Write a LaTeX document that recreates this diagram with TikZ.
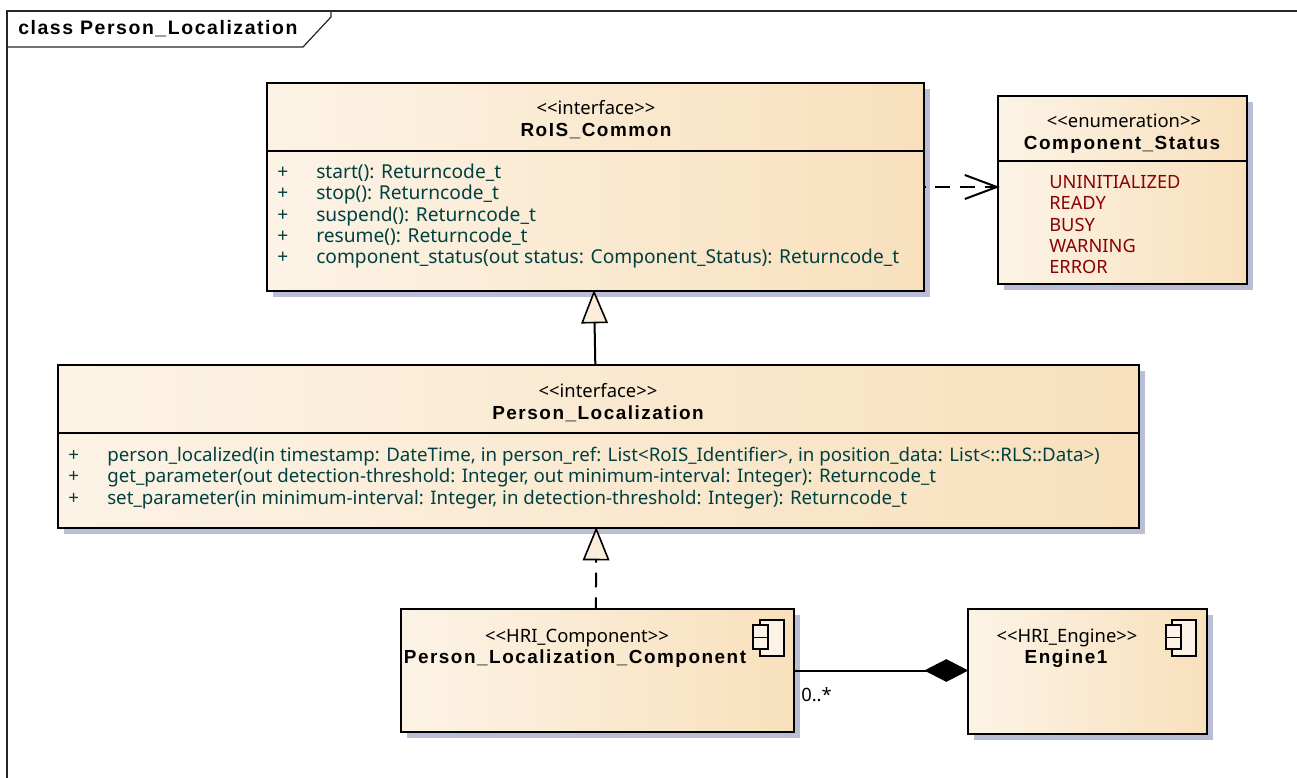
\documentclass[tikz,border=0pt]{standalone}
\usepackage{fontspec}
\usetikzlibrary{arrows.meta,shadows,fit,calc}
\newfontfamily\plainf{Noto Sans}
\newfontfamily\boldf[LetterSpace=8]{Liberation Sans}
\definecolor{boxl}{HTML}{FCF3E6}
\definecolor{boxm}{HTML}{FAEDDB}
\definecolor{boxr}{HTML}{F8E0BC}
\definecolor{shad}{HTML}{B9BED4}
\definecolor{opc}{HTML}{004040}
\definecolor{lit}{HTML}{8B0000}
\tikzset{
  x=0.75pt,y=-0.75pt,
  classbox/.style={draw=black,line width=1.5pt,inner sep=0pt,left color=boxl,middle color=boxm,right color=boxr,
    drop shadow={shadow xshift=4.5pt,shadow yshift=-4.5pt,opacity=1,fill=shad}},
  stereo/.style={anchor=base,inner sep=0pt,font=\plainf\fontsize{13.8pt}{16pt}\selectfont},
  cname/.style={anchor=base,inner sep=0pt,font=\boldf\bfseries\fontsize{14.2pt}{16pt}\selectfont},
  oper/.style={anchor=base west,inner sep=0pt,text=opc,font=\plainf\fontsize{14.37pt}{16pt}\selectfont},
  operw/.style={anchor=base west,inner sep=0pt,text=opc,font=\plainf\fontsize{14.02pt}{16pt}\selectfont},
  literal/.style={anchor=base west,inner sep=0pt,text=lit,font=\plainf\fontsize{13.7pt}{16pt}\selectfont},
  conn/.style={line width=1.5pt,draw=black},
  divline/.style={line width=1.5pt,draw=black},
  dashconn/.style={conn,dash pattern=on 11pt off 7.5pt},
  opentri/.style={shorten >=-1.5pt,-{Triangle[open,fill=boxm,length=25pt,width=20pt,line width=1.2pt]}},
  openarrow/.style={shorten >=-2pt,-{Straight Barb[length=24pt,width=18pt,line width=1.5pt]}},
  comp/.style={shorten >=-1pt,-{Diamond[fill=black,length=33pt,width=17pt]}},
  icon/.style={draw=black,line width=1.1pt,fill=boxl},
  framel/.style={draw=black!85,line width=0.9pt},
}
\begin{document}
\begin{tikzpicture}
\useasboundingbox (0,0) rectangle (1297,778);
% frame
\draw[framel] (7,778) -- (7,11) -- (1297,11);
\draw[framel] (7,47) -- (303,47) -- (331,17) -- (331,11);
\node[anchor=base west,inner sep=0pt,font=\boldf\bfseries\fontsize{14.6pt}{16pt}\selectfont] (frametitle) at (18,35) {class Person\_Localization};
% boxes
\node[classbox,fit={(266.5,83)(923.5,291)}] (rois) {};
\node[classbox,fit={(998,96)(1247,284)}] (status) {};
\node[classbox,fit={(58,365)(1139,528)}] (pl) {};
\node[classbox,fit={(401,609)(794,732)}] (cmp) {};
\node[classbox,fit={(968,609)(1207,734)}] (eng) {};
% dividers
\draw[divline] (rois.west |- 0,151) -- (rois.east |- 0,151);
\draw[divline] (status.west |- 0,161) -- (status.east |- 0,161);
\draw[divline] (pl.west |- 0,433) -- (pl.east |- 0,433);
% RoIS_Common
\node[stereo] (rs) at (596,114) {<{}<interface>{}>};
\node[cname] (rn) at (596,136) {RoIS\_Common};
\foreach \n/\y/\t in {a/178/start(): Returncode\_t, b/199/stop(): Returncode\_t, c/221/suspend(): Returncode\_t, d/242/resume(): Returncode\_t, e/263/component\_status(out status: Component\_Status): Returncode\_t}{
  \node[oper] (rp\n) at (277,\y) {+};
  \node[oper] (ro\n) at (316,\y) {\t};
}
% Component_Status
\node[stereo] (ss) at (1124,127) {<{}<enumeration>{}>};
\node[cname] (sn) at (1122,149) {Component\_Status};
\foreach \n/\y/\t in {a/188/UNINITIALIZED, b/209/READY, c/231/BUSY, d/252/WARNING, e/273/ERROR}{
  \node[literal] (sl\n) at (1049,\y) {\t};
}
% Person_Localization
\node[stereo] (ps) at (598,397) {<{}<interface>{}>};
\node[cname] (pn) at (598,419) {Person\_Localization};
\node[operw] (ppa) at (68,461) {+};
\node[operw] (poa) at (107,461) {person\_localized(in timestamp: DateTime, in person\_ref: List<RoIS\_Identifier>, in position\_data: List<::RLS::Data>)};
\node[operw] (ppb) at (68,482) {+};
\node[operw] (pob) at (107,482) {get\_parameter(out detection-threshold: Integer, out minimum-interval: Integer): Returncode\_t};
\node[operw] (ppc) at (68,504) {+};
\node[operw] (poc) at (107,504) {set\_parameter(in minimum-interval: Integer, in detection-threshold: Integer): Returncode\_t};
% Person_Localization_Component
\node[stereo] (cs) at (577,642) {<{}<HRI\_Component>{}>};
\node[cname] (cn) at (575,663) {Person\_Localization\_Component};
\draw[icon] (760,620) rectangle (784,656);
\draw[icon] (753,625) rectangle (768,637.5);
\draw[icon] (753,637.5) rectangle (768,649);
% Engine1
\node[stereo] (es) at (1067,642) {<{}<HRI\_Engine>{}>};
\node[cname] (en) at (1066,663) {Engine1};
\draw[icon] (1172,620) rectangle (1196,656);
\draw[icon] (1166,625) rectangle (1181,637.5);
\draw[icon] (1166,637.5) rectangle (1181,649);
% connectors
\draw[conn,opentri] ([xshift=-2.4pt]pl.north) -- ([xshift=-0.75pt]rois.south);
\draw[dashconn,dash phase=3pt,opentri] ([xshift=-1.2pt]cmp.north) -- ([xshift=-1.7pt]pl.south);
\draw[dashconn,dash phase=10.5pt,openarrow] (rois.east) -- (rois.east -| status.west);
\draw[conn,comp] (cmp.east) -- (cmp.east -| eng.west);
\node[anchor=base west,inner sep=0pt,font=\plainf\fontsize{13.8pt}{16pt}\selectfont] (mult) at (801,701) {0..*};
\end{tikzpicture}
\end{document}
